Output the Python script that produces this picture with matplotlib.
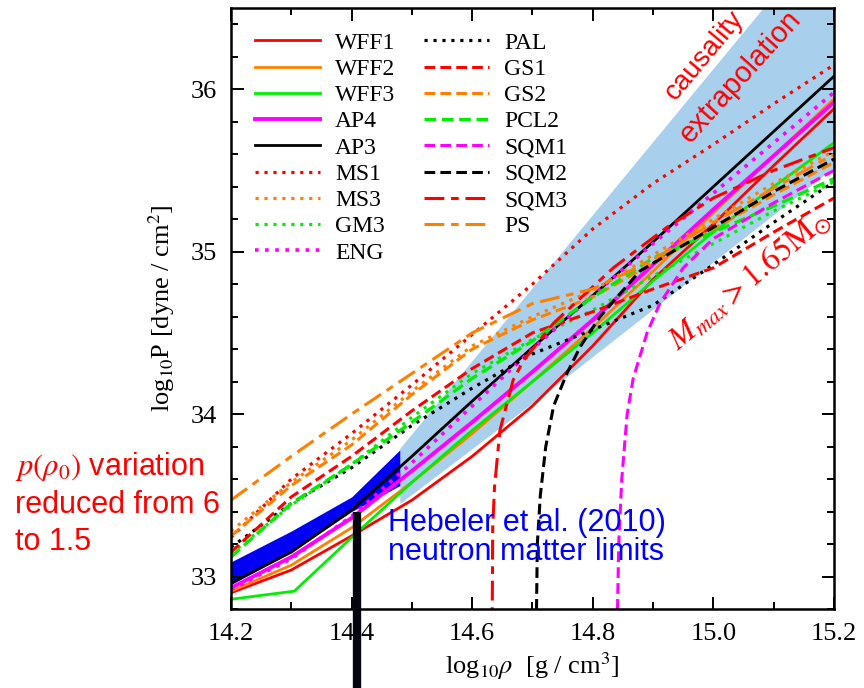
import matplotlib
matplotlib.use("Agg")
import matplotlib.pyplot as plt
import numpy as np

plt.rcParams['font.family'] = ['Liberation Serif', 'DejaVu Serif']
plt.rcParams['mathtext.fontset'] = 'stix'

# ---------------- data (log10 rho, log10 P) ----------------
rho = [14.2, 14.3, 14.4, 14.5, 14.6, 14.7, 14.8, 14.9, 15.0, 15.1, 15.2]

WFF1 = [32.90, 33.04, 33.25, 33.47, 33.74, 34.05, 34.42, 34.83, 35.17, 35.53, 35.88]
WFF2 = [32.91, 33.07, 33.30, 33.58, 33.88, 34.20, 34.53, 34.88, 35.24, 35.59, 35.94]
WFF3_rho = [14.2, 14.305, 14.4, 14.5, 14.6, 14.7, 14.8, 14.9, 15.0, 15.1, 15.2]
WFF3 = [32.86, 32.91, 33.24, 33.58, 33.90, 34.20, 34.50, 34.82, 35.12, 35.40, 35.67]
AP4 = [32.93, 33.12, 33.36, 33.65, 33.95, 34.26, 34.58, 34.92, 35.26, 35.59, 35.92]
AP3 = [32.96, 33.15, 33.41, 33.74, 34.08, 34.41, 34.73, 35.06, 35.40, 35.74, 36.08]
MS1 = [33.24, 33.60, 33.88, 34.18, 34.49, 34.80, 35.14, 35.42, 35.66, 35.91, 36.15]
MS3 = [33.28, 33.58, 33.84, 34.14, 34.42, 34.60, 34.76, 34.98, 35.20, 35.42, 35.62]
GM3 = [33.14, 33.44, 33.69, 33.98, 34.25, 34.46, 34.64, 34.85, 35.05, 35.25, 35.43]
ENG = [32.92, 33.11, 33.37, 33.70, 34.05, 34.40, 34.73, 35.05, 35.36, 35.67, 35.98]
PAL = [33.18, 33.45, 33.67, 33.93, 34.16, 34.37, 34.52, 34.67, 34.92, 35.18, 35.43]
GS1 = [33.15, 33.49, 33.74, 34.02, 34.28, 34.50, 34.63, 34.77, 34.90, 35.12, 35.33]
GS2 = [33.25, 33.56, 33.81, 34.12, 34.40, 34.58, 34.72, 34.93, 35.14, 35.35, 35.55]
PCL2 = [33.12, 33.45, 33.69, 33.95, 34.22, 34.45, 34.72, 34.96, 35.12, 35.28, 35.45]
PS = [33.47, 33.74, 34.00, 34.25, 34.50, 34.68, 34.77, 34.95, 35.18, 35.39, 35.60]

SQM1_rho = [14.840, 14.843, 14.848, 14.857, 14.867, 14.890, 14.911, 14.950, 15.000, 15.100, 15.200]
SQM1 = [32.60, 33.20, 33.60, 34.00, 34.22, 34.50, 34.68, 34.90, 35.08, 35.30, 35.50]
SQM2_rho = [14.706, 14.708, 14.713, 14.722, 14.735, 14.757, 14.780, 14.812, 14.878, 15.000, 15.100, 15.200]
SQM2 = [32.60, 33.20, 33.50, 33.80, 34.05, 34.25, 34.42, 34.60, 34.88, 35.15, 35.37, 35.57]
SQM3_rho = [14.633, 14.634, 14.637, 14.646, 14.668, 14.685, 14.735, 14.834, 14.923, 15.000, 15.100, 15.200]
SQM3 = [32.60, 33.30, 33.55, 33.90, 34.21, 34.33, 34.56, 34.90, 35.15, 35.33, 35.50, 35.64]

# causality / extrapolation band
band_rho = [14.48, 15.2]
band_upper = [33.79, 37.03]
band_low_rho = [14.48, 14.75, 14.812, 15.2]
band_lower = [33.45, 34.21, 34.39, 35.52]

# Hebeler et al. neutron matter band
heb_rho = [14.2, 14.3, 14.4, 14.48]
heb_upper = [33.09, 33.28, 33.49, 33.78]
heb_lower = [32.95, 33.15, 33.40, 33.56]

bar_rho = 14.409
bar_top = 33.40

# ---------------- figure ----------------
fig = plt.figure(figsize=(8.64, 6.88), dpi=100)
ax = fig.add_axes([231/864, 79/688, 603/864, 601/688])

# bands
gx = np.linspace(14.48, 15.2, 50)
ub = np.interp(gx, band_rho, band_upper)
lb = np.interp(gx, band_low_rho, band_lower)
ax.fill_between(gx, lb, ub, color='#a8d0ec', lw=0, zorder=1)
ax.fill_between(heb_rho, heb_lower, heb_upper, color='#0000f5', lw=0, zorder=1.5)

RED = '#ff0000'
ORA = '#ff8000'
GRN = '#00ee00'
MAG = '#ff00ff'
BLK = '#000000'
lw = 2.0
dot = (0, (1, 1.8))
dash = (0, (3.5, 1.7))
ldash = (0, (6.5, 2.2, 2.5, 2.2))

series = [
    ('WFF1', rho, WFF1, RED, '-', lw),
    ('WFF2', rho, WFF2, ORA, '-', lw),
    ('WFF3', WFF3_rho, WFF3, GRN, '-', lw),
    ('AP4', rho, AP4, MAG, '-', 2.8),
    ('AP3', rho, AP3, BLK, '-', lw),
    ('MS1', rho, MS1, RED, dot, 2.3),
    ('MS3', rho, MS3, ORA, dot, 2.3),
    ('GM3', rho, GM3, GRN, dot, 2.3),
    ('ENG', rho, ENG, MAG, dot, 2.6),
    ('PAL', rho, PAL, BLK, dot, 2.3),
    ('GS1', rho, GS1, RED, dash, 2.2),
    ('GS2', rho, GS2, ORA, dash, 2.2),
    ('PCL2', rho, PCL2, GRN, dash, 2.4),
    ('SQM1', SQM1_rho, SQM1, MAG, dash, 2.2),
    ('SQM2', SQM2_rho, SQM2, BLK, dash, 2.2),
    ('SQM3', SQM3_rho, SQM3, RED, ldash, 2.2),
    ('PS', rho, PS, ORA, ldash, 2.2),
]
for name, xs, ys, c, ls, w in series:
    ax.plot(xs, ys, color=c, linestyle=ls, lw=w, label=name, zorder=2)

# thick vertical bar
ax.plot([bar_rho, bar_rho], [bar_top, 32.0], color='#050510', lw=6, solid_capstyle='butt',
        clip_on=False, zorder=10)

ax.set_xlim(14.2, 15.2)
ax.set_ylim(32.8, 36.5)
ax.set_xticks([14.2, 14.4, 14.6, 14.8, 15.0, 15.2])
ax.set_xticklabels(['14.2', '14.4', '14.6', '14.8', '15.0', '15.2'])
ax.set_xticks(np.arange(14.2, 15.21, 0.1), minor=True)
ax.set_yticks([33, 34, 35, 36])
ax.set_yticks(np.arange(32.8, 36.51, 0.2), minor=True)
ax.tick_params(which='both', direction='in', top=True, right=True, width=1.4)
ax.tick_params(which='major', length=9, labelsize=19, pad=10)
ax.tick_params(which='minor', length=5)
for s in ax.spines.values():
    s.set_linewidth(1.8)

ax.set_xlabel(r'log$_{10}\rho$  [g / cm$^3$]', fontsize=19, labelpad=4)
ax.set_ylabel(r'log$_{10}$P [dyne / cm$^2$]', fontsize=19, labelpad=10)

leg = ax.legend(ncol=2, loc='upper left', bbox_to_anchor=(0.0, 1.0), frameon=False,
                fontsize=17, handlelength=2.75, handletextpad=0.64, columnspacing=1.2,
                labelspacing=0.2, borderaxespad=0.62)

sans = ['Liberation Sans', 'DejaVu Sans']
ax.text(14.985, 36.21, 'causality', color=RED, fontsize=20, family=sans, rotation=50,
        ha='center', va='center', zorder=5)
ax.text(15.045, 36.08, 'extrapolation', color=RED, fontsize=21, family=sans, rotation=48,
        ha='center', va='center', zorder=5)
ax.text(15.06, 34.82, r'$M_{max} > 1.65\mathrm{M}_{\odot}$', color=RED, fontsize=23,
        rotation=40, ha='center', va='center', zorder=5)
fig.text(15/864, 1 - 450/688, r'$p(\rho_0)$ variation' + '\nreduced from 6\nto 1.5', color=RED,
         fontsize=22, family=sans, ha='left', va='top', linespacing=1.3)
ax.text(14.46, 33.42, 'Hebeler et al. (2010)\nneutron matter limits', color='#0000ff',
        fontsize=22, family=sans, ha='left', va='top', linespacing=0.95, zorder=5)

fig.savefig('out.png', dpi=100)
